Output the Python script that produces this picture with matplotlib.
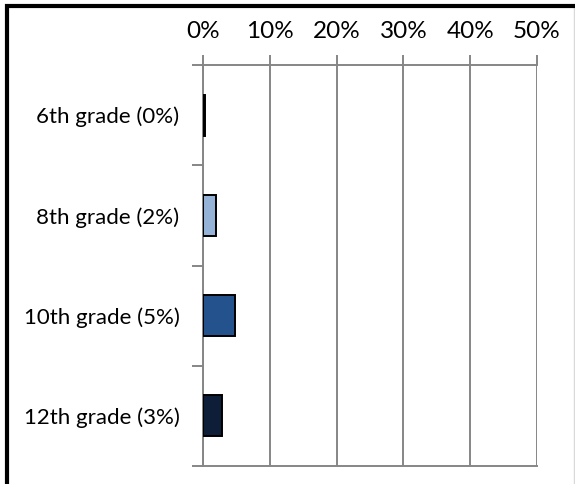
import matplotlib
matplotlib.use("Agg")
import matplotlib.pyplot as plt
from matplotlib.patches import Rectangle
from matplotlib.lines import Line2D
from matplotlib.ticker import FixedLocator, PercentFormatter

plt.rcParams['font.family'] = ['Lato', 'DejaVu Sans']

# data
grades = ['6th grade (0%)', '8th grade (2%)', '10th grade (5%)', '12th grade (3%)']
shares = [0.35, 1.9, 4.8, 2.8]
colors = ['#111111', '#95b3d7', '#24528c', '#0e1e38']
x_ticks = [0, 10, 20, 30, 40, 50]

W, H = 575, 484
fig = plt.figure(figsize=(W / 100, H / 100), dpi=100)
fig.patch.set_facecolor('white')

ax = fig.add_axes([203 / W, 1 - 466 / H, (537 - 203) / W, (466 - 65) / H])
grid_c = '#868686'

y = list(range(len(grades)))
ax.barh(y, shares, height=0.41, color=colors, edgecolor='black', linewidth=1.4, zorder=3)

ax.set_xlim(0, 50)
ax.set_ylim(len(grades) - 0.5, -0.5)
ax.xaxis.tick_top()
ax.set_xticks(x_ticks)
ax.xaxis.set_major_formatter(PercentFormatter(decimals=0))
ax.grid(axis='x', color=grid_c, linewidth=1.4, zorder=0)

ax.set_yticks(y)
ax.set_yticklabels(grades)
ax.yaxis.set_minor_locator(FixedLocator([i - 0.5 for i in range(len(grades) + 1)]))
ax.tick_params(axis='y', which='major', length=0, pad=17, labelsize=16)
ax.tick_params(axis='y', which='minor', length=8, width=1.4, color=grid_c)
ax.tick_params(axis='x', which='major', length=7, width=1.4, color=grid_c, pad=9.5, labelsize=17.5)

for s in ['top', 'left', 'bottom']:
    ax.spines[s].set_color(grid_c)
    ax.spines[s].set_linewidth(1.4)
ax.spines['right'].set_visible(False)

# outer frame: black on left/top, cropped on the other sides
fig.patches.append(Rectangle((6.5 / W, -0.1), 1.2, 1 - 5.5 / H + 0.1,
                             transform=fig.transFigure, fill=False,
                             edgecolor='black', linewidth=3, zorder=10))
fig.lines.append(Line2D([574 / W, 574 / W], [0, 1 - 8 / H], transform=fig.transFigure,
                        color='#d9d9d9', linewidth=1))

fig.savefig('out.png', dpi=100)
